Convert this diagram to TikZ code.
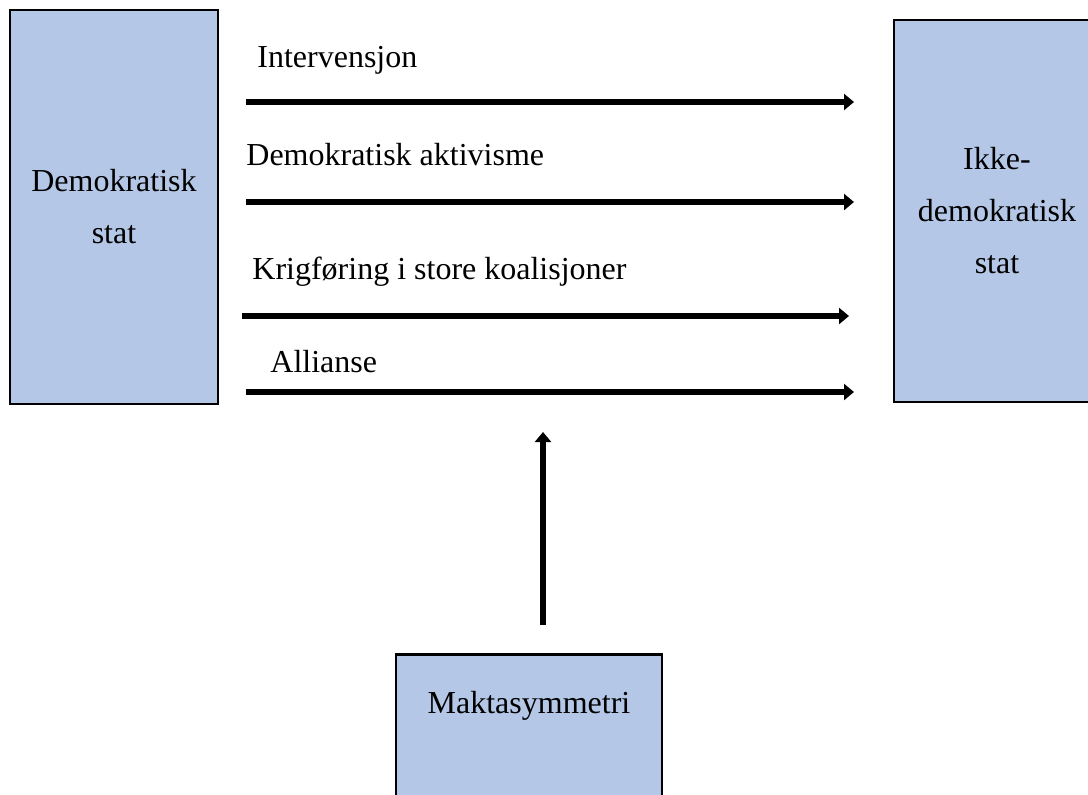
\documentclass[tikz,border=0pt]{standalone}
\usepackage{fontspec}
\setmainfont{Liberation Serif}
\usetikzlibrary{arrows.meta,positioning}
\definecolor{boxblue}{HTML}{B4C7E7}

\begin{document}
\begin{tikzpicture}[
          x=0.5pt, y=-0.5pt,
          font=\fontsize{16}{26}\selectfont,
          statebox/.style={rectangle, draw=black, fill=boxblue, line width=1.4pt,
              align=center, inner sep=0pt},
          arr/.style={-{Triangle[length=5pt,width=8pt]}, line width=2.6pt},
          lbl/.style={anchor=base west, inner sep=0pt}
      ]
      \useasboundingbox (0,0) rectangle (1088,794);
      \node[statebox, minimum width=104pt, minimum height=197pt] (demo) at (114,207) {Demokratisk\\stat};
      \node[statebox, minimum width=103pt, minimum height=191pt] (ikke) at (997,211) {Ikke-\\demokratisk\\stat};
      \node[statebox, anchor=north, minimum width=133pt, text height=29.5pt, text depth=60pt] (makt) at (529,653) {Maktasymmetri};
      % labels above the arrows
      \node[lbl] (interv) at (257,67)  {Intervensjon};
      \node[lbl] (aktiv)  at (246,165) {Demokratisk aktivisme};
      \node[lbl] (krig)   at (252,279) {Krigføring i store koalisjoner};
      \node[lbl] (alli)   at (270,372) {Allianse};
      % arrow ends
      \coordinate (s1) at (246,102); \coordinate (e1) at (854,102);
      \coordinate (s2) at (246,202); \coordinate (e2) at (854,202);
      \coordinate (s3) at (242,316); \coordinate (e3) at (849,316);
      \coordinate (s4) at (246,392); \coordinate (e4) at (854,392);
      \coordinate (vbot) at (543,625); \coordinate (vtop) at (543,432);
      \draw[arr] (s1) -- (e1);
      \draw[arr] (s2) -- (e2);
      \draw[arr] (s3) -- (e3);
      \draw[arr] (s4) -- (e4);
      \draw[arr] (vbot) -- (vtop);
\end{tikzpicture}
\end{document}
